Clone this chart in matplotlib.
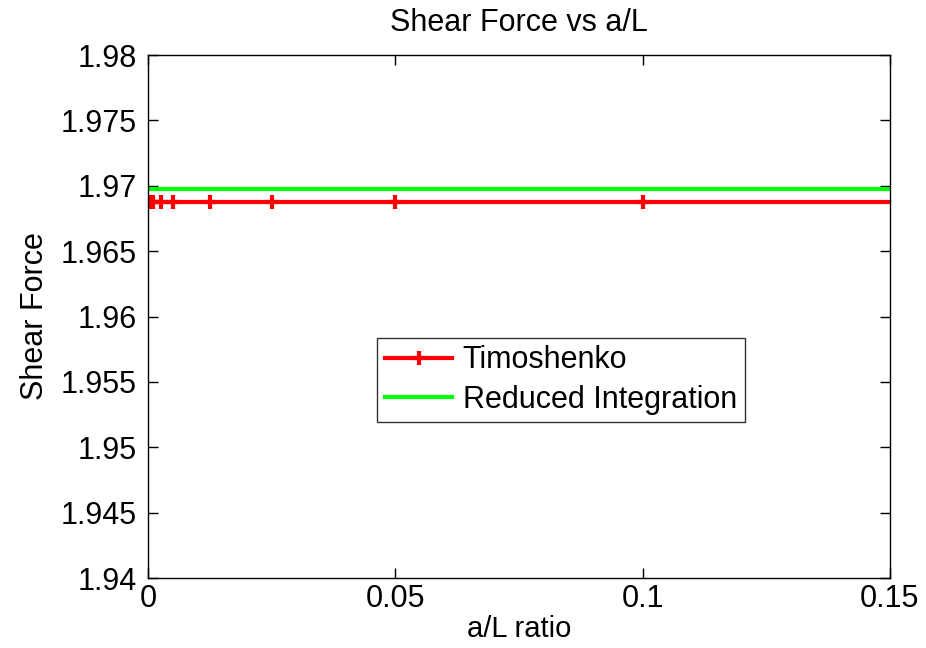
import matplotlib
matplotlib.use("Agg")
import matplotlib.pyplot as plt

plt.rcParams['font.family'] = ['Liberation Sans', 'DejaVu Sans']

# Data
ratio_timo = [0.2, 0.1, 0.05, 0.025, 0.0125, 0.005, 0.0025, 0.001, 0.0005, 0.0001]
shear_timo = [1.96878] * len(ratio_timo)
ratio_red = [0.0, 0.2]
shear_red = [1.96975, 1.96975]
yticks = [1.94, 1.945, 1.95, 1.955, 1.96, 1.965, 1.97, 1.975, 1.98]
yticklabels = ['1.94', '1.945', '1.95', '1.955', '1.96', '1.965', '1.97', '1.975', '1.98']
xticks = [0, 0.05, 0.1, 0.15]
xticklabels = ['0', '0.05', '0.1', '0.15']

fig = plt.figure(figsize=(9.26, 6.48), dpi=100)
ax = fig.add_axes([0.16, 0.108, 0.801, 0.807])

ax.plot(ratio_timo, shear_timo, color='#ff0000', lw=3, marker='+', ms=10, mew=3,
        label='Timoshenko')
ax.plot(ratio_red, shear_red, color='#00ff00', lw=3, label='Reduced Integration')

ax.set_xlim(0, 0.15)
ax.set_ylim(1.94, 1.98)
ax.set_xticks(xticks)
ax.set_xticklabels(xticklabels)
ax.set_yticks(yticks)
ax.set_yticklabels(yticklabels)
ax.tick_params(direction='in', top=True, right=True, labelsize=22, length=7, width=1)
ax.tick_params(axis='y', pad=8)
ax.tick_params(axis='x', pad=4)
for s in ax.spines.values():
    s.set_linewidth(1)

ax.set_title('Shear Force vs a/L', fontsize=22, pad=17)
ax.set_xlabel('a/L ratio', fontsize=21, labelpad=1)
ax.set_ylabel('Shear Force', fontsize=22, labelpad=8)

leg = ax.legend(loc='center', fontsize=22,
                frameon=True, fancybox=False, edgecolor='black', handlelength=2.2,
                borderpad=0.25, labelspacing=0.3, handletextpad=0.35, borderaxespad=0)
leg.set_bbox_to_anchor(((357 + 765) / 2 / 926, 1 - (338 + 422) / 2 / 648), transform=fig.transFigure)
leg.get_frame().set_linewidth(1)

fig.savefig('out.png', dpi=100)
